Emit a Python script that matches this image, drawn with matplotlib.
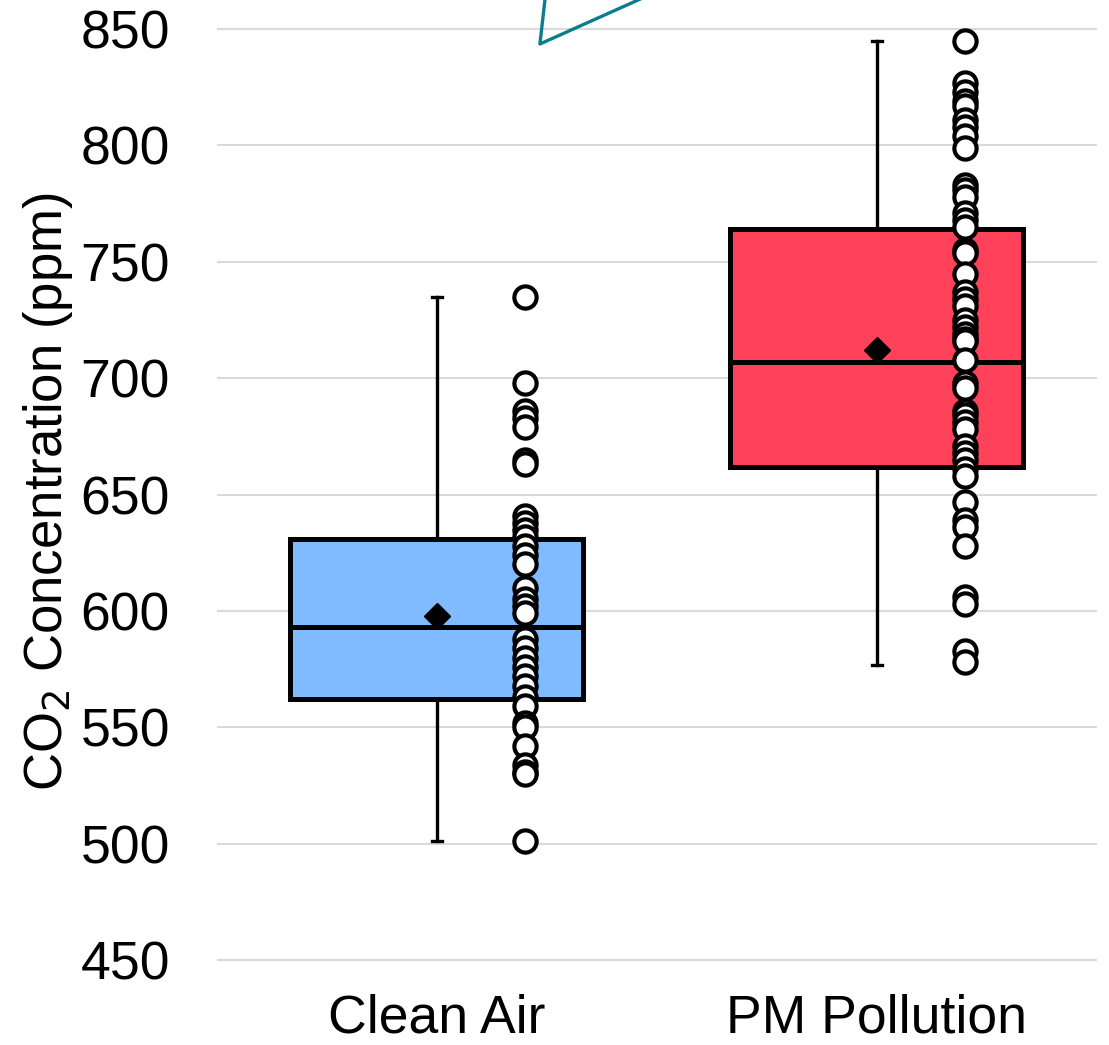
import numpy as np
import matplotlib
matplotlib.use('Agg')
import matplotlib.pyplot as plt

plt.rcParams['font.family'] = ['Liberation Sans', 'DejaVu Sans']

categories = ['Clean Air', 'PM Pollution']
box_colors = ['#80BAFF', '#FF4259']

clean_air = [735, 698, 686, 683, 679, 665, 663, 641, 638, 635, 632, 628, 624,
             620, 610, 605, 602, 599, 588, 584, 580, 576, 572, 568, 563, 559,
             552, 550, 542, 534, 531, 530, 501]
pm_pollution = [845, 827, 823, 819, 817, 811, 808, 804, 799, 783, 781, 778,
                771, 768, 765, 755, 754, 745, 737, 734, 731, 725, 722, 719,
                717, 716, 708, 698, 696, 686, 684, 681, 678, 671, 668, 665,
                661, 658, 647, 639, 636, 628, 606, 603, 583, 578]

# box statistics
q1 = [562, 662]
med = [593, 707]
q3 = [631, 764]
whislo = [501, 577]
whishi = [735, 845]
means = [598, 712]

# partial callout shape at the top (cut by the figure edge)
callout_x = [0.256, 0.234, 0.664]
callout_y = [880, 843.6, 880]

fig = plt.figure(figsize=(11.09, 10.45), dpi=100)
ax = fig.add_axes([0.1957, 0.0589, 0.7933, 0.9411])

stats = []
for i in range(2):
    stats.append(dict(q1=q1[i], med=med[i], q3=q3[i], whislo=whislo[i],
                      whishi=whishi[i], mean=means[i], fliers=[], label=categories[i]))

bp = ax.bxp(stats, positions=[0, 1], widths=0.666, patch_artist=True,
            showmeans=True, showfliers=False,
            boxprops=dict(linewidth=3.6, edgecolor='black'),
            medianprops=dict(color='black', linewidth=3.6),
            whiskerprops=dict(color='black', linewidth=2.4),
            capprops=dict(color='black', linewidth=2.4),
            meanprops=dict(marker='D', markerfacecolor='black',
                           markeredgecolor='black', markersize=13.5))
for patch, c in zip(bp['boxes'], box_colors):
    patch.set_facecolor(c)
for cap in bp['caps']:
    xd = cap.get_xdata()
    m = (xd[0] + xd[1]) / 2
    cap.set_xdata([m - 0.012, m + 0.012])

for i, vals in enumerate([clean_air, pm_pollution]):
    ax.plot([i + 0.2] * len(vals), vals, 'o', markersize=16,
            markerfacecolor='white', markeredgecolor='black',
            markeredgewidth=3, zorder=4, linestyle='none')

ax.plot(callout_x, callout_y, color='#0B7E8E', linewidth=2.4,
        clip_on=False, zorder=5)

ax.set_xlim(-0.5, 1.5)
ax.set_ylim(440, 862.5)
ax.set_yticks(np.arange(450, 851, 50))
ax.set_xticks([0, 1])
ax.set_xticklabels(categories)
ax.yaxis.grid(True, color='#d9d9d9', linewidth=1.5)
ax.set_axisbelow(True)
for s in ax.spines.values():
    s.set_visible(False)
ax.tick_params(axis='both', length=0, labelsize=38.5)
ax.tick_params(axis='y', pad=34)
ax.tick_params(axis='x', pad=7)
ax.set_ylabel('CO$_2$ Concentration (ppm)', fontsize=38, labelpad=4)

fig.savefig('out.png', dpi=100)
